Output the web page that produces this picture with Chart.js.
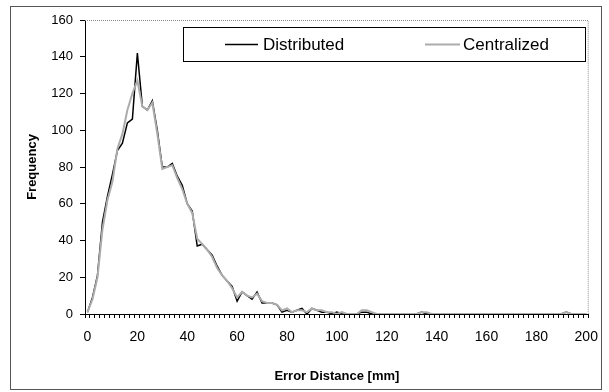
<!DOCTYPE html>
<html>
<head>
<meta charset="utf-8">
<script src="https://cdn.jsdelivr.net/npm/chart.js@4/dist/chart.umd.min.js"></script>
<style>
  html, body { margin: 0; padding: 0; background: #fff; }
  #wrap { width: 609px; height: 392px; position: relative; }
</style>
</head>
<body>
<div id="wrap"><canvas id="c" width="609" height="392"></canvas></div>
<script>
const errorDistance = [
  0, 2, 4, 6, 8, 10, 12, 14, 16, 18,
  20, 22, 24, 26, 28, 30, 32, 34, 36, 38,
  40, 42, 44, 46, 48, 50, 52, 54, 56, 58,
  60, 62, 64, 66, 68, 70, 72, 74, 76, 78,
  80, 82, 84, 86, 88, 90, 92, 94, 96, 98,
  100, 102, 104, 106, 108, 110, 112, 114, 116, 118,
  120, 122, 124, 126, 128, 130, 132, 134, 136, 138,
  140, 142, 144, 146, 148, 150, 152, 154, 156, 158,
  160, 162, 164, 166, 168, 170, 172, 174, 176, 178,
  180, 182, 184, 186, 188, 190, 192, 194, 196, 198,
  200
];
const distributed = [
  1, 9, 21, 50, 64, 76, 89, 93, 104, 106,
  142, 113, 111, 116, 100, 80, 80, 82, 75, 70,
  60, 56, 37, 38, 35, 32, 26, 21, 18, 15,
  7, 12, 10, 8, 12, 6, 6, 6, 5, 1,
  2, 1, 2, 3, 0, 3, 2, 1, 1, 0,
  1, 0, 0, 0, 0, 1, 1, 0, 0, 0,
  0, 0, 0, 0, 0, 0, 0, 1, 0, 0,
  0, 0, 0, 0, 0, 0, 0, 0, 0, 0,
  0, 0, 0, 0, 0, 0, 0, 0, 0, 0,
  0, 0, 0, 0, 0, 0, 1, 0, 0, 0,
  0
];
const centralized = [
  1, 8, 20, 46, 62, 72, 90, 98, 111, 120,
  127, 113, 111, 115, 98, 79, 80, 81, 74, 68,
  60, 55, 41, 38, 35, 31, 25, 21, 18, 14,
  9, 12, 10, 9, 11, 7, 6, 6, 5, 2,
  3, 1, 2, 2, 1, 3, 2, 2, 1, 1,
  0, 1, 0, 0, 0, 2, 2, 1, 0, 0,
  0, 0, 0, 0, 0, 0, 0, 1, 1, 0,
  0, 0, 0, 0, 0, 0, 0, 0, 0, 0,
  0, 0, 0, 0, 0, 0, 0, 0, 0, 0,
  0, 0, 0, 0, 0, 0, 1, 0, 0, 0,
  0
];
const seriesNames = ['Distributed', 'Centralized'];
const xTitle = 'Error Distance [mm]';
const yTitle = 'Frequency';

const frameAndLegend = {
  id: 'frameAndLegend',
  afterDraw(chart) {
    const ctx = chart.ctx;
    const a = chart.chartArea;
    ctx.save();
    ctx.strokeStyle = '#8a8a8a';
    ctx.lineWidth = 1;
    ctx.setLineDash([1, 1]);
    ctx.beginPath();
    ctx.moveTo(a.left, a.top + 0.5);
    ctx.lineTo(a.right - 0.5, a.top + 0.5);
    ctx.lineTo(a.right - 0.5, a.bottom);
    ctx.stroke();
    ctx.setLineDash([]);
    ctx.strokeStyle = '#555';
    ctx.strokeRect(10.5, 6.5, 591, 383);
    const bx = 183.5, by = 27.5, bw = 402, bh = 34;
    ctx.fillStyle = '#fff';
    ctx.fillRect(bx, by, bw, bh);
    ctx.strokeStyle = '#000';
    ctx.strokeRect(bx, by, bw, bh);
    const items = [
      { x0: 225, x1: 258, tx: 263 },
      { x0: 425, x1: 460, tx: 463 }
    ];
    ctx.font = '17px "Liberation Sans", Arial, sans-serif';
    ctx.textBaseline = 'middle';
    ctx.textAlign = 'left';
    chart.data.datasets.forEach((ds, i) => {
      const it = items[i];
      const ly = by + bh / 2;
      ctx.strokeStyle = ds.borderColor;
      ctx.lineWidth = ds.borderWidth;
      ctx.beginPath();
      ctx.moveTo(it.x0, ly);
      ctx.lineTo(it.x1, ly);
      ctx.stroke();
      ctx.fillStyle = '#000';
      ctx.fillText(ds.label, it.tx, ly + 1);
    });
    ctx.restore();
  }
};

new Chart(document.getElementById('c'), {
  type: 'line',
  data: {
    labels: errorDistance,
    datasets: [
      { label: seriesNames[0], data: distributed, borderColor: '#000000', borderWidth: 1.5,
        pointRadius: 0, tension: 0, fill: false, order: 2 },
      { label: seriesNames[1], data: centralized, borderColor: '#acacac', borderWidth: 2,
        pointRadius: 0, tension: 0, fill: false, order: 1 }
    ]
  },
  options: {
    responsive: false,
    animation: false,
    devicePixelRatio: 1,
    layout: { padding: { left: 0, top: 20, right: 17, bottom: 0 } },
    plugins: { legend: { display: false }, tooltip: { enabled: false } },
    scales: {
      x: {
        type: 'category',
        offset: true,
        afterFit(s) { s.height = 78; },
        grid: { display: true, drawOnChartArea: false, drawTicks: true, tickLength: 4,
                offset: true, color: '#000' },
        border: { display: true, color: '#000', width: 1 },
        ticks: {
          autoSkip: false, maxRotation: 0, minRotation: 0, padding: 11, color: '#000',
          font: { family: '"Liberation Sans", Arial, sans-serif', size: 14 },
          callback(value) {
            const lab = this.getLabelForValue(value);
            return Number(lab) % 20 === 0 ? String(lab) : '';
          }
        },
        title: { display: true, text: xTitle, color: '#000',
                 font: { family: '"Liberation Sans", Arial, sans-serif', size: 13, weight: 'bold' },
                 padding: { top: 0, bottom: 8 } }
      },
      y: {
        min: 0, max: 160,
        afterFit(s) { s.width = 85; },
        grid: { display: true, drawOnChartArea: false, drawTicks: true, tickLength: 5, color: '#000' },
        border: { display: true, color: '#000', width: 1 },
        ticks: { stepSize: 20, padding: 7, color: '#000',
                 font: { family: '"Liberation Sans", Arial, sans-serif', size: 13 } },
        title: { display: true, text: yTitle, color: '#000',
                 font: { family: '"Liberation Sans", Arial, sans-serif', size: 13, weight: 'bold' },
                 padding: { top: 25, bottom: 0 } }
      }
    }
  },
  plugins: [frameAndLegend]
});
</script>
</body>
</html>
